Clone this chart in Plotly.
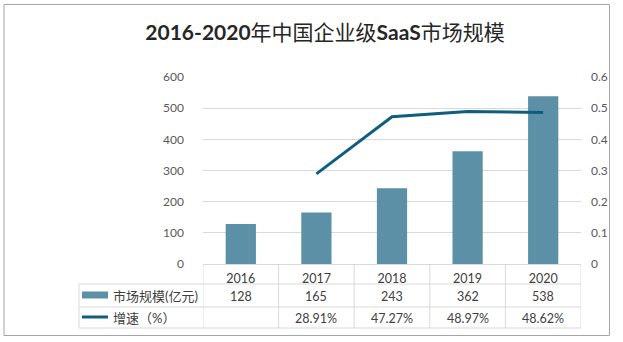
import plotly.graph_objects as go

years = ["2016", "2017", "2018", "2019", "2020"]
market_size = [128, 165, 243, 362, 538]
growth = [None, 0.2891, 0.4727, 0.4897, 0.4862]
left_ticks = [0, 100, 200, 300, 400, 500, 600]
right_ticks = [0, 0.1, 0.2, 0.3, 0.4, 0.5, 0.6]
series_names = ["市场规模(亿元)", "增速（%）"]
title_text = "<b>2016-2020</b>年中国企业级<b>SaaS</b>市场规模"

W, H = 623, 342
L, R, T, B = 203, 581, 77, 264  # plot area in pixels

def px(x):
    return (x - L) / (R - L)

def py(y):
    return (B - y) / (B - T)

BAR_C = "#5B90A6"
LINE_C = "#0F5E80"
GRID_C = "#D9D9D9"
TXT_C = "#404040"
TICK_C = "#595959"
FONT = "Lato, 'Noto Sans CJK SC', sans-serif"

fig = go.Figure()
fig.add_trace(go.Bar(x=years, y=market_size, name=series_names[0],
                     marker=dict(color=BAR_C, line=dict(width=0)), width=0.4, yaxis="y"))
fig.add_trace(go.Scatter(x=years, y=growth, name=series_names[1], mode="lines",
                         line=dict(color=LINE_C, width=3), connectgaps=False, yaxis="y2"))

shapes = []
def hline(y, x0, x1):
    shapes.append(dict(type="line", xref="paper", yref="paper", x0=px(x0), x1=px(x1),
                       y0=py(y), y1=py(y), line=dict(color=GRID_C, width=1), layer="above"))
def vline(x, y0, y1):
    shapes.append(dict(type="line", xref="paper", yref="paper", x0=px(x), x1=px(x),
                       y0=py(y0), y1=py(y1), line=dict(color=GRID_C, width=1), layer="above"))

row_top, row1, row2, row3 = 264, 284, 307, 328
leg_left = 79
hline(row1, leg_left, R)
hline(row2, leg_left, R)
hline(row3, leg_left, R)
vline(leg_left, row1, row3)
n = len(years)
for i in range(n + 1):
    shapes.append(dict(type="line", xref="x", yref="paper", x0=i - 0.5, x1=i - 0.5,
                       y0=py(row_top), y1=py(row3), line=dict(color=GRID_C, width=1), layer="above"))

# legend swatches
shapes.append(dict(type="rect", xref="paper", yref="paper", x0=px(82), x1=px(108),
                   y0=py(298.5), y1=py(291.5), fillcolor=BAR_C, line=dict(width=0)))
shapes.append(dict(type="line", xref="paper", yref="paper", x0=px(82), x1=px(108),
                   y0=py(317), y1=py(317), line=dict(color=LINE_C, width=3)))
# outer border
shapes.append(dict(type="rect", xref="paper", yref="paper", x0=px(4), x1=px(609.5),
                   y0=py(335.5), y1=py(4.5), line=dict(color="#A6A6A6", width=1),
                   fillcolor="rgba(0,0,0,0)", layer="above"))

annotations = []
annotations.append(dict(text=series_names[0], xref="paper", yref="paper", x=px(111), y=py(296),
                        xanchor="left", yanchor="middle", showarrow=False,
                        font=dict(size=13, color=TXT_C, family=FONT)))
annotations.append(dict(text=series_names[1], xref="paper", yref="paper", x=px(111), y=py(317.5),
                        xanchor="left", yanchor="middle", showarrow=False,
                        font=dict(size=13, color=TXT_C, family=FONT)))
for i, v in enumerate(market_size):
    annotations.append(dict(text=str(v), xref="x", yref="paper", x=i, y=py(296),
                            xanchor="center", yanchor="middle", showarrow=False,
                            font=dict(size=12.5, color=TXT_C, family=FONT)))
for i, g in enumerate(growth):
    if g is None:
        continue
    annotations.append(dict(text=f"{g*100:.2f}%", xref="x", yref="paper", x=i, y=py(318),
                            xanchor="center", yanchor="middle", showarrow=False,
                            font=dict(size=12.5, color=TXT_C, family=FONT)))

fig.update_layout(
    width=W, height=H,
    margin=dict(l=L, r=W - R, t=T, b=H - B, pad=0),
    paper_bgcolor="white", plot_bgcolor="white",
    showlegend=False,
    font=dict(family=FONT, color=TXT_C),
    title=dict(text=title_text, x=325 / W, xanchor="center", xref="container",
               y=1 - 33 / H, yanchor="middle", yref="container",
               font=dict(size=21, color="#262626", family=FONT, weight="normal")),
    xaxis=dict(type="category", range=[-0.5, n - 0.5], showgrid=False, zeroline=False,
               showline=True, linecolor=GRID_C, linewidth=1, ticks="",
               tickfont=dict(size=12.5, color=TXT_C, family=FONT), ticklabelstandoff=3),
    yaxis=dict(range=[0, 600], tickvals=left_ticks, showgrid=True, gridcolor=GRID_C, gridwidth=1,
               zeroline=False, showline=False, ticks="",
               tickfont=dict(size=12, color=TICK_C, family=FONT), ticklabelstandoff=18),
    yaxis2=dict(range=[0, 0.6], tickvals=right_ticks, overlaying="y", side="right",
                showgrid=False, zeroline=False, showline=False, ticks="",
                tickfont=dict(size=12, color=TICK_C, family=FONT), ticklabelstandoff=9),
    shapes=shapes, annotations=annotations, bargap=0.6,
)

fig.write_html("out.html")
